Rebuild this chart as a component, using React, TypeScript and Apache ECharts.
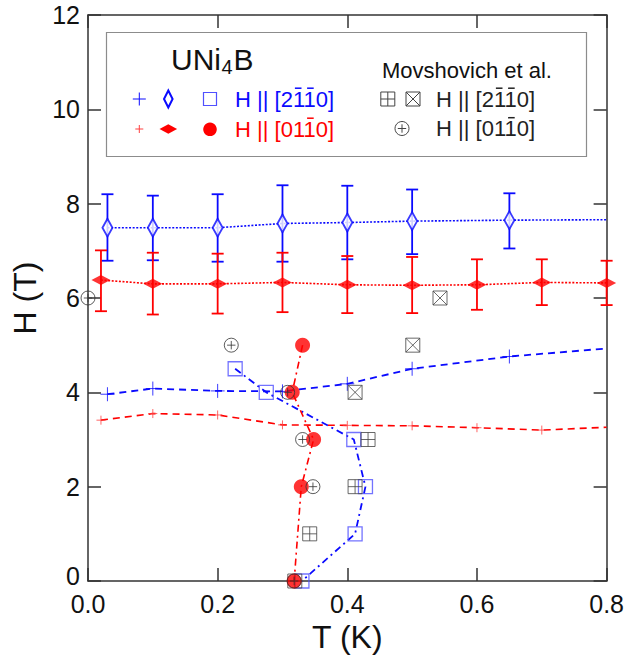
import React, { useEffect, useRef } from 'react';
import * as echarts from 'echarts';

// ---------- data ----------
const blueDiamondT = [0.03, 0.1, 0.2, 0.3, 0.4, 0.5, 0.65];
const blueDiamondH = [7.49, 7.49, 7.49, 7.58, 7.6, 7.63, 7.65];
const blueDiamondLow = [6.79, 6.8, 6.77, 6.77, 6.82, 6.93, 7.05];
const blueDiamondHigh = [8.2, 8.17, 8.2, 8.39, 8.38, 8.3, 8.22];
const blueDottedTail = [0.8, 7.66];

const redDiamondT = [0.02, 0.1, 0.2, 0.3, 0.4, 0.5, 0.6, 0.7, 0.8];
const redDiamondH = [6.38, 6.3, 6.3, 6.33, 6.28, 6.27, 6.28, 6.33, 6.32];
const redDiamondLow = [5.72, 5.65, 5.67, 5.7, 5.68, 5.68, 5.75, 5.85, 5.85];
const redDiamondHigh = [7.01, 6.96, 6.94, 6.96, 6.89, 6.87, 6.82, 6.82, 6.79];

const blueCrossT = [0.03, 0.1, 0.2, 0.3, 0.4, 0.5, 0.65];
const blueCrossH = [3.96, 4.08, 4.03, 4.02, 4.18, 4.5, 4.76];
const blueCrossTail = [0.8, 4.93];

const redCrossT = [0.02, 0.1, 0.2, 0.3, 0.4, 0.5, 0.6, 0.7];
const redCrossH = [3.41, 3.55, 3.52, 3.31, 3.3, 3.29, 3.25, 3.2];
const redCrossTail = [0.8, 3.26];

const blueSquareT = [0.227, 0.275, 0.41, 0.428, 0.412, 0.33];
const blueSquareH = [4.5, 4, 3, 2, 1, 0];

const redCircleT = [0.331, 0.315, 0.348, 0.329, 0.318];
const redCircleH = [5, 4, 3, 2, 0];

const movCirclePlusT = [0.0, 0.221, 0.308, 0.331, 0.347, 0.318];
const movCirclePlusH = [6, 5, 4, 3, 2, 0];

const movSquarePlusT = [0.432, 0.412, 0.342, 0.319];
const movSquarePlusH = [3, 2, 1, 0];

const movSquareXT = [0.543, 0.501, 0.412];
const movSquareXH = [6, 5, 4];

const xTicks = [0, 0.2, 0.4, 0.6, 0.8];
const yTicks = [0, 2, 4, 6, 8, 10, 12];

// ---------- helpers ----------
const zip = (a: number[], b: number[]) => a.map((v, i) => [v, b[i]]);
const zip3 = (a: number[], b: number[], c: number[]) => a.map((v, i) => [v, b[i], c[i]]);

const FONT = '"Liberation Sans", Arial, Helvetica, sans-serif';
const BLUE = '#0a0aff';
const RED = '#ff0000';
const AXIS = '#333';

const PLUS = 'path://M5,0L5,10M0,5L10,5';
const SQ_PLUS = 'path://M0,0L10,0L10,10L0,10ZM5,0L5,10M0,5L10,5';
const SQ_X = 'path://M0,0L10,0L10,10L0,10ZM0,0L10,10M10,0L0,10';
const CIRC_PLUS = 'path://M0,5A5,5,0,1,1,10,5A5,5,0,1,1,0,5ZM5,2L5,8M2,5L8,5';

function errorBars(data: number[][], color: string) {
  return {
    type: 'custom',
    data,
    encode: { x: 0, y: [1, 2] },
    z: 3,
    renderItem: (params: any, api: any) => {
      const x = api.value(0);
      const lo = api.coord([x, api.value(1)]);
      const hi = api.coord([x, api.value(2)]);
      const w = 6;
      const st = { stroke: color, lineWidth: 1.8 };
      return {
        type: 'group',
        children: [
          { type: 'line', shape: { x1: lo[0], y1: lo[1], x2: hi[0], y2: hi[1] }, style: st },
          { type: 'line', shape: { x1: lo[0] - w, y1: lo[1], x2: lo[0] + w, y2: lo[1] }, style: st },
          { type: 'line', shape: { x1: hi[0] - w, y1: hi[1], x2: hi[0] + w, y2: hi[1] }, style: st },
        ],
      };
    },
  };
}

function lineSeries(data: number[][], color: string, dash: number[], width = 1.6) {
  return {
    type: 'line',
    data,
    symbol: 'none',
    z: 2,
    lineStyle: { color, width, type: dash },
  };
}

function scatter(data: number[][], symbol: string, size: any, style: any, z = 4) {
  return {
    type: 'scatter',
    data,
    symbol,
    symbolSize: size,
    itemStyle: style,
    clip: false,
    z,
  };
}

function legendGraphics() {
  const g: any[] = [];
  g.push({
    type: 'rect',
    shape: { x: 106.5, y: 32.5, width: 480, height: 124 },
    style: { fill: 'none', stroke: '#8c8c8c', lineWidth: 1.2 },
  });
  const line = (x1: number, y1: number, x2: number, y2: number, stroke: string, lineWidth = 1) => ({
    type: 'line', shape: { x1, y1, x2, y2 }, style: { stroke, lineWidth },
  });
  // row 1 (blue)
  g.push(line(132.8, 99, 145.8, 99, BLUE, 1));
  g.push(line(139.3, 92.5, 139.3, 105.5, BLUE, 1));
  g.push({
    type: 'polygon',
    shape: { points: [[168.3, 90.5], [172.6, 99], [168.3, 107.5], [164, 99]] },
    style: { fill: '#fff', stroke: BLUE, lineWidth: 2 },
  });
  g.push({ type: 'rect', shape: { x: 203.5, y: 92.5, width: 13, height: 13 }, style: { fill: 'none', stroke: '#5050ff', lineWidth: 1.2 } });
  // row 2 (red)
  g.push(line(135.3, 129, 143.3, 129, '#ff4040', 1));
  g.push(line(139.3, 125, 139.3, 133, '#ff4040', 1));
  g.push({
    type: 'polygon',
    shape: { points: [[159.5, 129], [168.3, 124.3], [177.1, 129], [168.3, 133.7]] },
    style: { fill: RED },
  });
  g.push({ type: 'circle', shape: { cx: 210, cy: 129.3, r: 6.8 }, style: { fill: RED } });
  // Movshovich symbols
  const sq = (cx: number, cy: number, kind: 'plus' | 'x') => {
    const h = 7;
    g.push({ type: 'rect', shape: { x: cx - h, y: cy - h, width: 2 * h, height: 2 * h }, style: { fill: 'none', stroke: '#444', lineWidth: 1 } });
    if (kind === 'plus') {
      g.push(line(cx, cy - h, cx, cy + h, '#444'));
      g.push(line(cx - h, cy, cx + h, cy, '#444'));
    } else {
      g.push(line(cx - h, cy - h, cx + h, cy + h, '#444'));
      g.push(line(cx + h, cy - h, cx - h, cy + h, '#444'));
    }
  };
  sq(387.8, 99, 'plus');
  sq(413, 99, 'x');
  g.push({ type: 'circle', shape: { cx: 402, cy: 128.5, r: 7 }, style: { fill: 'none', stroke: '#444', lineWidth: 1 } });
  g.push(line(402, 124.3, 402, 132.7, '#444'));
  g.push(line(397.8, 128.5, 406.2, 128.5, '#444'));

  const text = (x: number, y: number, t: string, size: number, fill: string) => ({
    type: 'text', x, y,
    style: { text: t, fontSize: size, fontFamily: FONT, fill, align: 'left', verticalAlign: 'middle' },
  });
  // overline bars above the "1" digits of the Miller indices (font 22, Arial metrics)
  const bar = (x0: number, yc: number, offsets: number[], color: string) => {
    offsets.forEach((o) => g.push(line(x0 + o - 3.3, yc - 10.8, x0 + o + 3.3, yc - 10.8, color, 1.5)));
  };
  g.push(text(171, 59.5, 'UNi', 30, '#111'));
  g.push(text(221.5, 67, '4', 20, '#111'));
  g.push(text(233.5, 59.5, 'B', 30, '#111'));
  g.push(text(235, 99, 'H || [2110]', 22, BLUE));
  bar(235, 99, [63.2, 75.4], BLUE);
  g.push(text(235, 129, 'H || [0110]', 22, RED));
  bar(235, 129, [75.4], RED);
  g.push(text(382, 70.5, 'Movshovich et al.', 22, '#111'));
  g.push(text(436, 99, 'H || [2110]', 22, '#222'));
  bar(436, 99, [63.2, 75.4], '#222');
  g.push(text(436, 128.5, 'H || [0110]', 22, '#222'));
  bar(436, 128.5, [75.4], '#222');
  return g;
}

function buildOption() {
  const axisLine = { show: true, onZero: false, lineStyle: { color: AXIS, width: 1.5 } };
  const axisTick = { show: true, inside: true, length: 13, lineStyle: { color: AXIS, width: 1.5 } };
  return {
    animation: false,
    backgroundColor: '#fff',
    grid: { left: 88, top: 15, right: 19.5, bottom: 80, containLabel: false },
    xAxis: [
      {
        type: 'value', min: xTicks[0], max: xTicks[xTicks.length - 1], interval: 0.2, position: 'bottom',
        axisLine, axisTick, splitLine: { show: false },
        axisLabel: { fontSize: 25, lineHeight: 20, color: '#111', margin: 13, fontFamily: FONT, formatter: (v: number) => v.toFixed(1) },
        name: 'T (K)', nameLocation: 'middle', nameGap: 39,
        nameTextStyle: { fontSize: 32, color: '#111', fontFamily: FONT },
      },
      {
        type: 'value', min: xTicks[0], max: xTicks[xTicks.length - 1], interval: 0.2, position: 'top',
        axisLine, axisTick, splitLine: { show: false }, axisLabel: { show: false },
      },
    ],
    yAxis: [
      {
        type: 'value', min: yTicks[0], max: yTicks[yTicks.length - 1], interval: 2, position: 'left',
        axisLine, axisTick, splitLine: { show: false },
        axisLabel: {
          fontSize: 25, lineHeight: 20, color: '#111', margin: 8, fontFamily: FONT,
          formatter: (v: number) => (v === 0 ? '{z|0}' : String(v)),
          rich: { z: { fontSize: 25, lineHeight: 20, color: '#111', fontFamily: FONT, padding: [0, 0, 11, 0] } },
        },
        name: 'H (T)', nameLocation: 'middle', nameGap: 41, nameRotate: 90,
        nameTextStyle: { fontSize: 32, color: '#111', fontFamily: FONT },
      },
      {
        type: 'value', min: yTicks[0], max: yTicks[yTicks.length - 1], interval: 2, position: 'right',
        axisLine, axisTick, splitLine: { show: false }, axisLabel: { show: false },
      },
    ],
    graphic: legendGraphics(),
    series: [
      lineSeries([...zip(blueDiamondT, blueDiamondH), blueDottedTail], BLUE, [2, 1.6], 1.6),
      lineSeries(zip(redDiamondT, redDiamondH), RED, [2, 1.6], 1.6),
      lineSeries([...zip(blueCrossT, blueCrossH), blueCrossTail], BLUE, [7, 5], 1.8),
      lineSeries([...zip(redCrossT, redCrossH), redCrossTail], RED, [7, 5], 1.6),
      lineSeries(zip(blueSquareT, blueSquareH), BLUE, [7, 4, 2, 4], 1.8),
      lineSeries(zip(redCircleT, redCircleH), RED, [7, 4, 2, 4], 1.6),
      errorBars(zip3(blueDiamondT, blueDiamondLow, blueDiamondHigh), BLUE),
      errorBars(zip3(redDiamondT, redDiamondLow, redDiamondHigh), RED),
      scatter(zip(blueDiamondT, blueDiamondH), 'diamond', [10, 18], { color: '#fff', borderColor: BLUE, borderWidth: 2 }, 5),
      scatter(zip(redDiamondT, redDiamondH), 'diamond', [19, 10], { color: RED, borderWidth: 0 }, 5),
      scatter(zip(blueCrossT, blueCrossH), PLUS, 14, { color: 'rgba(0,0,0,0)', borderColor: BLUE, borderWidth: 1 }, 5),
      scatter(zip(redCrossT, redCrossH), PLUS, 9, { color: 'rgba(0,0,0,0)', borderColor: '#ff4040', borderWidth: 1 }, 5),
      scatter(zip(blueSquareT, blueSquareH), 'rect', 14, { color: 'rgba(0,0,0,0)', borderColor: '#5050ff', borderWidth: 1.3 }, 6),
      scatter(zip(movSquareXT, movSquareXH), SQ_X, 14, { color: 'rgba(0,0,0,0)', borderColor: '#444', borderWidth: 1 }, 6),
      scatter(zip(movSquarePlusT, movSquarePlusH), SQ_PLUS, 14, { color: 'rgba(0,0,0,0)', borderColor: '#444', borderWidth: 1 }, 6),
      scatter(zip(redCircleT, redCircleH), 'circle', 15, { color: RED, borderWidth: 0 }, 7),
      scatter(zip(movCirclePlusT, movCirclePlusH), CIRC_PLUS, 14, { color: 'rgba(0,0,0,0)', borderColor: '#333', borderWidth: 1 }, 8),
    ],
  };
}

export default function App() {
  const ref = useRef<HTMLDivElement>(null);
  useEffect(() => {
    if (!ref.current) return;
    const chart = echarts.init(ref.current, null, { renderer: 'svg' });
    chart.setOption(buildOption() as any);
    return () => chart.dispose();
  }, []);
  return (
    <div
      ref={ref}
      style={{ position: 'absolute', left: 0, top: 0, width: 627, height: 661, background: '#fff' }}
    />
  );
}
